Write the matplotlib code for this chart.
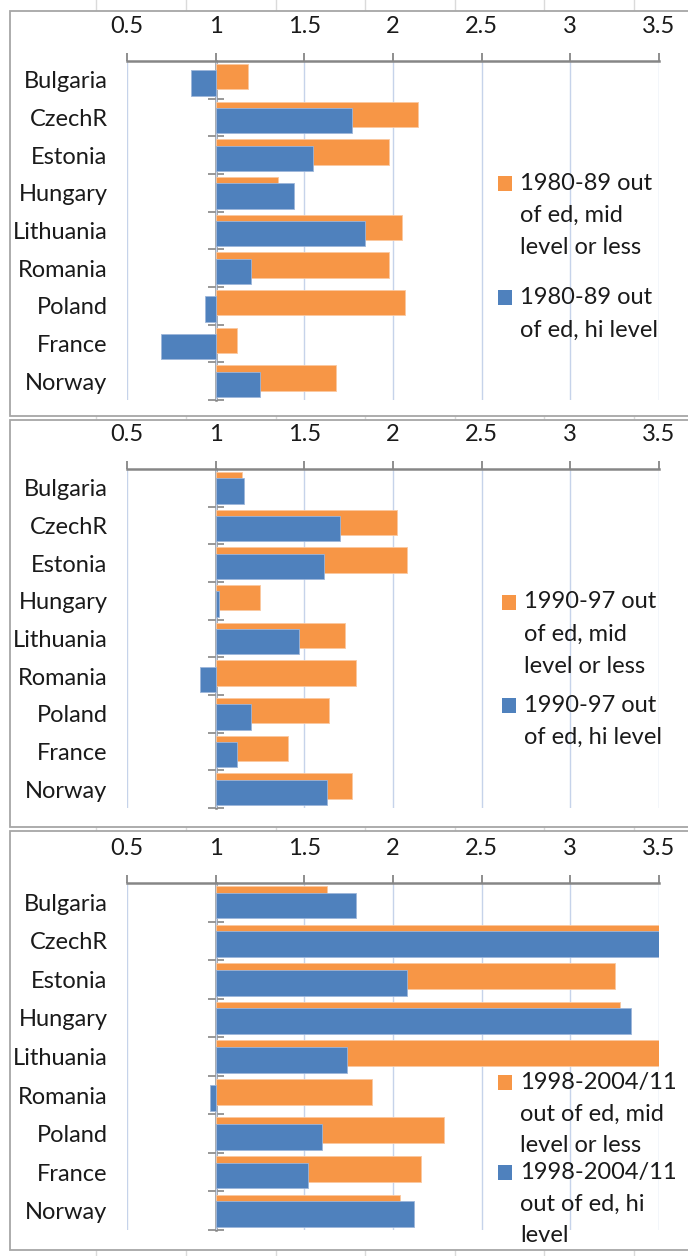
import matplotlib
matplotlib.use('Agg')
import matplotlib.pyplot as plt
from matplotlib.patches import Rectangle

plt.rcParams['font.family'] = ['Lato', 'DejaVu Sans']

countries = ['Bulgaria', 'CzechR', 'Estonia', 'Hungary', 'Lithuania',
             'Romania', 'Poland', 'France', 'Norway']

# ratios, bars drawn from the axis crossing at 1
mid_8089 = [1.18, 2.14, 1.98, 1.35, 2.05, 1.98, 2.07, 1.12, 1.68]
hi_8089 = [0.86, 1.77, 1.55, 1.44, 1.84, 1.20, 0.94, 0.69, 1.25]
mid_9097 = [1.15, 2.02, 2.08, 1.25, 1.73, 1.79, 1.64, 1.41, 1.77]
hi_9097 = [1.16, 1.70, 1.61, 1.02, 1.47, 0.91, 1.20, 1.12, 1.63]
mid_9811 = [1.63, 3.50, 3.25, 3.28, 3.50, 1.88, 2.29, 2.16, 2.04]
hi_9811 = [1.79, 3.50, 2.08, 3.34, 1.74, 0.97, 1.60, 1.52, 2.12]

labels_8089 = ['1980-89 out\nof ed, mid\nlevel or less', '1980-89 out\nof ed, hi level']
labels_9097 = ['1990-97 out\nof ed, mid\nlevel or less', '1990-97 out\nof ed, hi level']
labels_9811 = ['1998-2004/11\nout of ed, mid\nlevel or less', '1998-2004/11\nout of ed, hi\nlevel']

xticks = [0.5, 1, 1.5, 2, 2.5, 3, 3.5]
xticklabels = ['0.5', '1', '1.5', '2', '2.5', '3', '3.5']

ORANGE = '#F79646'
BLUE = '#4F81BD'
GRID = '#C6D3EA'
AXIS = '#868686'
TXT = '#1a1a1a'

W, H = 688, 1256
fig = plt.figure(figsize=(W / 100, H / 100), dpi=100)
fig.patch.set_facecolor('white')

# spreadsheet cell lines behind the charts
for gx in [96, 186, 276, 365, 455, 544, 634]:
    fig.add_artist(plt.Line2D([gx / W, gx / W], [0, 1], color='#DADADA', lw=1, zorder=0))

# (panel top, panel bottom, axes top, axes bottom, legend rows, legend x)
panels = [
    (11, 416, 61, 400, [183, 298], 498, mid_8089, hi_8089, labels_8089),
    (420, 827, 469, 808, [602, 705], 502, mid_9097, hi_9097, labels_9097),
    (831, 1250, 883, 1230, [1082, 1172], 498, mid_9811, hi_9811, labels_9811),
]

left_px, right_px = 127, 659
line_h = 32

for ptop, pbot, atop, abot, leg_y, leg_x, mid, hi, labels in panels:
    fig.add_artist(Rectangle((10 / W, 1 - pbot / H), (W + 10) / W, (pbot - ptop) / H,
                             transform=fig.transFigure, facecolor='white',
                             edgecolor='#A6A6A6', lw=1.3, zorder=1))

    ax = fig.add_axes([left_px / W, 1 - abot / H, (right_px - left_px) / W, (abot - atop) / H])
    ax.set_zorder(2)
    ax.patch.set_alpha(0)

    y = list(range(len(countries)))
    ax.barh([i - 0.085 for i in y], [v - 1 for v in mid], left=1, height=0.67,
            color=ORANGE, edgecolor='#FAC8A0', lw=0.6, zorder=2)
    ax.barh([i + 0.085 for i in y], [v - 1 for v in hi], left=1, height=0.67,
            color=BLUE, edgecolor='#9DB6DA', lw=0.6, zorder=3)

    ax.set_xlim(0.5, 3.5)
    ax.set_ylim(len(countries) - 0.5, -0.5)

    ax.xaxis.tick_top()
    ax.set_xticks(xticks)
    ax.set_xticklabels(xticklabels, fontsize=17, color=TXT)
    ax.tick_params(axis='x', direction='out', length=6, width=1.3, color=AXIS, pad=11)
    ax.grid(axis='x', color=GRID, lw=1, zorder=0)

    ax.set_yticks(y)
    ax.set_yticklabels(countries, fontsize=17, color=TXT)
    ax.tick_params(axis='y', length=0, pad=14)

    for s in ['left', 'right', 'bottom']:
        ax.spines[s].set_visible(False)
    ax.spines['top'].set_color(AXIS)
    ax.spines['top'].set_linewidth(1.8)

    # vertical category axis crossing at 1
    sec = ax.secondary_yaxis((1 - 0.5) / 3)
    sec.set_yticks([i + 0.5 for i in y])
    sec.tick_params(axis='y', direction='inout', length=12, width=1.2, color=AXIS,
                    labelleft=False, labelright=False)
    sec.spines['left'].set_color(AXIS)
    sec.spines['left'].set_linewidth(1.8)

    for ly, lab, col in zip(leg_y, labels, [ORANGE, BLUE]):
        fig.add_artist(Rectangle((leg_x / W, 1 - (ly + 7.5) / H), 14 / W, 15 / H,
                                 transform=fig.transFigure, facecolor=col,
                                 edgecolor='none', zorder=3))
        for k, line in enumerate(lab.split('\n')):
            fig.text((leg_x + 22) / W, 1 - (ly + k * line_h) / H, line, fontsize=17,
                     color=TXT, va='center', ha='left', zorder=3)

fig.savefig('out.png', dpi=100)
